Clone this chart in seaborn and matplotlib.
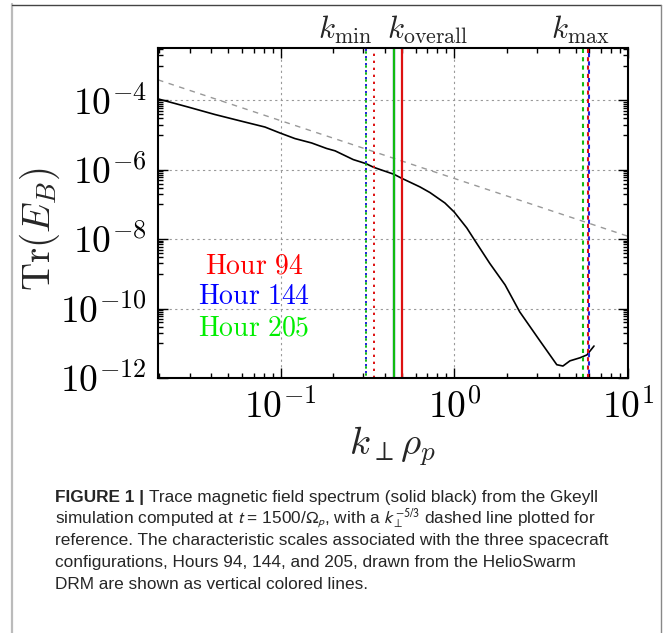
import numpy as np
import matplotlib
matplotlib.use("Agg")
import matplotlib.pyplot as plt
import seaborn as sns
from matplotlib.lines import Line2D
from matplotlib.ticker import LogLocator, FuncFormatter, NullFormatter

# spectrum
k_perp = [0.0197, 0.0294, 0.0419, 0.0596, 0.0813, 0.099, 0.121, 0.151, 0.184, 0.206,
          0.262, 0.31, 0.344, 0.449, 0.497, 0.634, 0.724, 0.883, 1.0, 1.18, 1.31,
          1.60, 1.96, 2.38, 3.10, 3.89, 4.22, 4.63, 5.29, 5.80, 6.37]
trace_eb = [1.1e-4, 6.4e-5, 3.9e-5, 2.5e-5, 1.7e-5, 1.15e-5, 7.9e-6, 5.9e-6, 4.1e-6, 3.5e-6,
            1.96e-6, 1.5e-6, 1.17e-6, 7.4e-7, 5.7e-7, 3.2e-7, 2.2e-7, 1.1e-7, 6.0e-8, 2.1e-8, 9.3e-9,
            2.0e-9, 4.8e-10, 8.0e-11, 1.2e-11, 2.4e-12, 2.2e-12, 3.1e-12, 3.8e-12, 4.6e-12, 8.3e-12]

# k^-5/3 reference, amplitude at k=1
ref_amp = 5.6e-7
ref_slope = -5.0 / 3.0

# characteristic scales per spacecraft configuration
hours = ['Hour 94', 'Hour 144', 'Hour 205']
hour_colors = ['#dd1111', '#2222dd', '#11bb11']
text_colors = ['#ff0000', '#0000ff', '#00ee00']
k_min = [0.344, 0.31, 0.31]
k_overall = [0.497, 0.449, 0.449]
k_max = [5.92, 6.0, 5.53]

xlim = (0.0197, 10)
ylim = (1e-12, 3.2e-3)

sns.set_style('ticks')
plt.rcParams['mathtext.fontset'] = 'cm'
plt.rcParams['font.family'] = ['DejaVu Sans']

fig = plt.figure(figsize=(6.65, 6.33), dpi=100)
ax = fig.add_axes([0.2376, 0.403, 0.7068, 0.521])

sns.lineplot(x=k_perp, y=trace_eb, color='k', lw=1.2, ax=ax, sort=False, estimator=None)
k_ref = np.array(xlim)
sns.lineplot(x=k_ref, y=ref_amp * k_ref ** ref_slope, color='#999999', lw=1.0, ax=ax)
ax.lines[-1].set_dashes((4, 4))

# dotted k_min, solid k_overall, dashed k_max; offsets let overlapping lines alternate
for i in [1, 2, 0]:
    ax.axvline(k_min[i], color=hour_colors[i], ls=(1.2 * i, (1.2, 2.4)), lw=1.4)
for i in [1, 2, 0]:
    ax.axvline(k_overall[i], color=hour_colors[i], ls='-', lw=1.6)
for i in [2, 0, 1]:
    ax.axvline(k_max[i], color=hour_colors[i], ls=(2.0 * (i % 2), (2, 2)), lw=1.5)

ax.set_xscale('log')
ax.set_yscale('log')
ax.set_xlim(*xlim)
ax.set_ylim(*ylim)

ax.yaxis.set_major_locator(LogLocator(base=100))
ax.yaxis.set_minor_locator(LogLocator(base=100, subs=np.arange(1, 10) * 0.1))
ax.yaxis.set_minor_formatter(NullFormatter())
fmt = FuncFormatter(lambda v, p: r'$10^{%d}$' % int(round(np.log10(v))))
ax.xaxis.set_major_formatter(fmt)
ax.yaxis.set_major_formatter(fmt)

ax.grid(True, which='major', ls=(0, (2, 3)), color='#999999', lw=0.8)
ax.tick_params(which='both', direction='in', top=True, right=True, width=1.0, colors='k')
ax.tick_params(which='major', length=7.5, labelsize=27, pad=8)
ax.tick_params(which='minor', length=3.8)
for s in ax.spines.values():
    s.set_linewidth(1.5)
    s.set_color('k')

ax.set_xlabel(r'$k_\perp\rho_p$', fontsize=28)
ax.set_ylabel(r'$\mathrm{Tr}(E_B)$', fontsize=28)
ax.xaxis.set_label_coords(0.498, -0.14)
ax.yaxis.set_label_coords(-0.204, 0.452)

trans = ax.get_xaxis_transform()
ax.text(0.234, 1.005, r'$k_{\mathrm{min}}$', transform=trans, ha='center', va='bottom', fontsize=22.5)
ax.text(0.70, 1.005, r'$k_{\mathrm{overall}}$', transform=trans, ha='center', va='bottom', fontsize=22.5)
ax.text(5.33, 1.005, r'$k_{\mathrm{max}}$', transform=trans, ha='center', va='bottom', fontsize=22.5)

for j, (h, c) in enumerate(zip(hours, text_colors)):
    ax.text(0.204, 0.342 - 0.095 * j, r'$\mathrm{%s}$' % h.replace(' ', r'\ '), color=c,
            transform=ax.transAxes, ha='center', va='center', fontsize=20)

# page frame
fig.add_artist(Line2D([12 / 665, 12 / 665], [0, 1 - 4 / 633], color='#bbbbbb', lw=1.6))
fig.add_artist(Line2D([12 / 665, 661 / 665], [1 - 4.5 / 633, 1 - 4.5 / 633], color='#444444', lw=1.0))
fig.add_artist(Line2D([661 / 665, 661 / 665], [0, 1 - 4.5 / 633], color='#888888', lw=1.0))

# caption
cap_font = 'Liberation Sans'
cap_size = 12.4
cap_color = '#262626'
caption = [
    r'simulation computed at $t$ = 1500/$\Omega_p$, with a $k_\perp^{-5/3}$ dashed line plotted for',
    'reference. The characteristic scales associated with the three spacecraft',
    'configurations, Hours 94, 144, and 205, drawn from the HelioSwarm',
    'DRM are shown as vertical colored lines.',
]
x0 = 55 / 665
y_first = 1 - 502 / 633
dy = 21.7 / 633
t1 = fig.text(x0, y_first, 'FIGURE 1 | ', family=cap_font, fontweight='bold', fontsize=cap_size,
              color=cap_color, va='baseline')
fig.canvas.draw()
w1 = t1.get_window_extent().width / fig.bbox.width
fig.text(x0 + w1, y_first, 'Trace magnetic field spectrum (solid black) from the Gkeyll',
         family=cap_font, fontsize=cap_size, color=cap_color, va='baseline')
for n, line in enumerate(caption):
    fig.text(x0, y_first - dy * (n + 1), line, family=cap_font, fontsize=cap_size,
             color=cap_color, va='baseline', math_fontfamily='stixsans')

fig.savefig('out.png', dpi=100)
